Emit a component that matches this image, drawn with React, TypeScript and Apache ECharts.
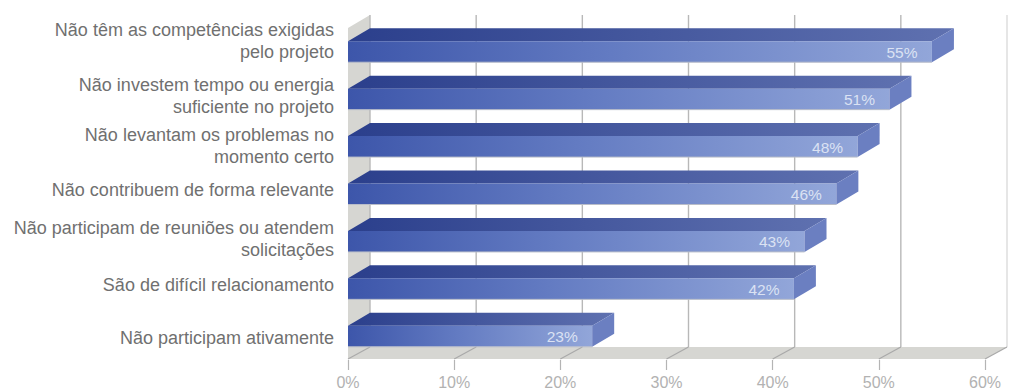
import React, { useEffect, useRef } from "react";
import * as echarts from "echarts";

const categories = [
  "Não têm as competências exigidas\npelo projeto",
  "Não investem tempo ou energia\nsuficiente no projeto",
  "Não levantam os problemas no\nmomento certo",
  "Não contribuem de forma relevante",
  "Não participam de reuniões ou atendem\nsolicitações",
  "São de difícil relacionamento",
  "Não participam ativamente",
];
const values = [55, 51, 48, 46, 43, 42, 23];
const xTicks = [0, 10, 20, 30, 40, 50, 60];

// Vertical correction of each category label relative to its bar, in pixels.
const labelShift = [-11, -3, -0.5, -4, -2.5, -4, 1.5];

// Oblique projection used for the pseudo-3D depth.
const DEPTH_X = 22;
const DEPTH_Y = 13;
const BAR_HEIGHT = 21;
const FONT = '"Liberation Sans", Arial, sans-serif';

const hGradient = (from: string, to: string) =>
  new echarts.graphic.LinearGradient(0, 0, 1, 0, [
    { offset: 0, color: from },
    { offset: 1, color: to },
  ]);

export default function App() {
  const ref = useRef<HTMLDivElement>(null);

  useEffect(() => {
    const chart = echarts.init(ref.current!, undefined, { renderer: "svg" });

    const renderBox = (params: any) => {
      const cs = params.coordSys;
      const left = cs.x;
      const right = cs.x + cs.width;
      const top = cs.y;
      const floorFront = cs.y + cs.height - 1;
      const floorBack = floorFront - DEPTH_Y + 1;
      const wallColor = "#d6d6d2";
      return {
        type: "group",
        children: [
          {
            type: "polygon",
            shape: {
              points: [
                [left, top],
                [left + DEPTH_X, top - DEPTH_Y],
                [left + DEPTH_X, floorBack],
                [left, floorFront],
              ],
            },
            style: { fill: wallColor },
          },
          {
            type: "polygon",
            shape: {
              points: [
                [left, floorFront],
                [left + DEPTH_X, floorBack],
                [right + DEPTH_X, floorBack],
                [right, floorFront],
              ],
            },
            style: { fill: wallColor },
          },
        ],
      };
    };

    const renderGridLine = (params: any, api: any) => {
      const cs = params.coordSys;
      const x = api.coord([api.value(0), 0])[0];
      const floorFront = cs.y + cs.height - 1;
      const floorBack = floorFront - DEPTH_Y + 1;
      const isLast = params.dataIndex === xTicks.length - 1;
      const stroke = isLast ? "#dcdcdc" : "#b8b8b8";
      return {
        type: "group",
        children: [
          {
            type: "line",
            shape: { x1: x + DEPTH_X, y1: cs.y - DEPTH_Y, x2: x + DEPTH_X, y2: floorBack },
            style: { stroke, lineWidth: 1.4 },
          },
          {
            type: "line",
            shape: { x1: x, y1: floorFront, x2: x + DEPTH_X, y2: floorBack },
            style: { stroke: "#a9a9a9", lineWidth: 1.2 },
          },
        ],
      };
    };

    const renderBar = (params: any, api: any) => {
      const v = api.value(0);
      const [x1, yc] = api.coord([v, api.value(1)]);
      const [x0] = api.coord([0, 0]);
      const h = BAR_HEIGHT;
      const yT = yc - h / 2;
      const yB = yc + h / 2;
      return {
        type: "group",
        children: [
          {
            type: "polygon",
            shape: {
              points: [
                [x0, yT],
                [x0 + DEPTH_X, yT - DEPTH_Y],
                [x1 + DEPTH_X, yT - DEPTH_Y],
                [x1, yT],
              ],
            },
            style: { fill: hGradient("#2b3f8c", "#5f71b0") },
          },
          {
            type: "rect",
            shape: { x: x0, y: yT, width: x1 - x0, height: h },
            style: {
              fill: new echarts.graphic.LinearGradient(0, 0, 1, 0, [
                { offset: 0, color: "#3d56aa" },
                { offset: 0.45, color: "#637bc2" },
                { offset: 1, color: "#92a6d9" },
              ]),
            },
          },
          {
            type: "polygon",
            shape: {
              points: [
                [x1, yT],
                [x1 + DEPTH_X, yT - DEPTH_Y],
                [x1 + DEPTH_X, yB - DEPTH_Y],
                [x1, yB],
              ],
            },
            style: { fill: "#6b7fc1" },
          },
          {
            type: "line",
            shape: { x1: x0, y1: yB, x2: x1, y2: yB },
            style: { stroke: "#b9bdc9", lineWidth: 1 },
          },
          {
            type: "text",
            x: x1 - 30,
            y: yc + 0.5,
            style: {
              text: `${v}%`,
              fill: "#dbe2f3",
              font: `15.5px ${FONT}`,
              align: "center",
              verticalAlign: "middle",
            },
          },
        ],
      };
    };

    // Category names sit left of the bars, each with its own vertical correction.
    const renderCategoryLabel = (params: any, api: any) => {
      const i = api.value(1);
      const [x, y] = api.coord([0, i]);
      return {
        type: "text",
        x: x - 14,
        y: y + labelShift[i],
        style: {
          text: categories[i],
          fill: "#707070",
          font: `18px ${FONT}`,
          lineHeight: 22,
          align: "right",
          verticalAlign: "middle",
        },
      };
    };

    chart.setOption({
      animation: false,
      backgroundColor: "#ffffff",
      grid: { left: 348, top: 28, width: 637, height: 332 },
      xAxis: {
        type: "value",
        min: 0,
        max: 60,
        interval: 10,
        axisLine: { show: false },
        axisTick: { show: true, length: 10, lineStyle: { color: "#b4b4b4", width: 1.2 } },
        splitLine: { show: false },
        axisLabel: {
          formatter: "{value}%",
          color: "#b2b2b2",
          fontFamily: FONT,
          fontSize: 16,
          margin: 14,
        },
      },
      yAxis: {
        type: "category",
        inverse: true,
        data: categories,
        axisLine: { show: false },
        axisTick: { show: false },
        splitLine: { show: false },
        axisLabel: { show: false },
      },
      series: [
        {
          type: "custom",
          silent: true,
          clip: false,
          z: 1,
          data: [[0, 0]],
          renderItem: renderBox,
        },
        {
          type: "custom",
          silent: true,
          clip: false,
          z: 2,
          data: xTicks.map((t) => [t, 0]),
          renderItem: renderGridLine,
        },
        {
          type: "custom",
          silent: true,
          clip: false,
          z: 3,
          encode: { x: 0, y: 1 },
          data: values.map((v, i) => [v, i]),
          renderItem: renderBar,
        },
        {
          type: "custom",
          silent: true,
          clip: false,
          z: 4,
          encode: { x: 0, y: 1 },
          data: categories.map((_, i) => [0, i]),
          renderItem: renderCategoryLabel,
        },
      ],
    });

    return () => chart.dispose();
  }, []);

  return (
    <div
      ref={ref}
      style={{ position: "absolute", left: 0, top: 0, width: 1011, height: 390 }}
    />
  );
}
